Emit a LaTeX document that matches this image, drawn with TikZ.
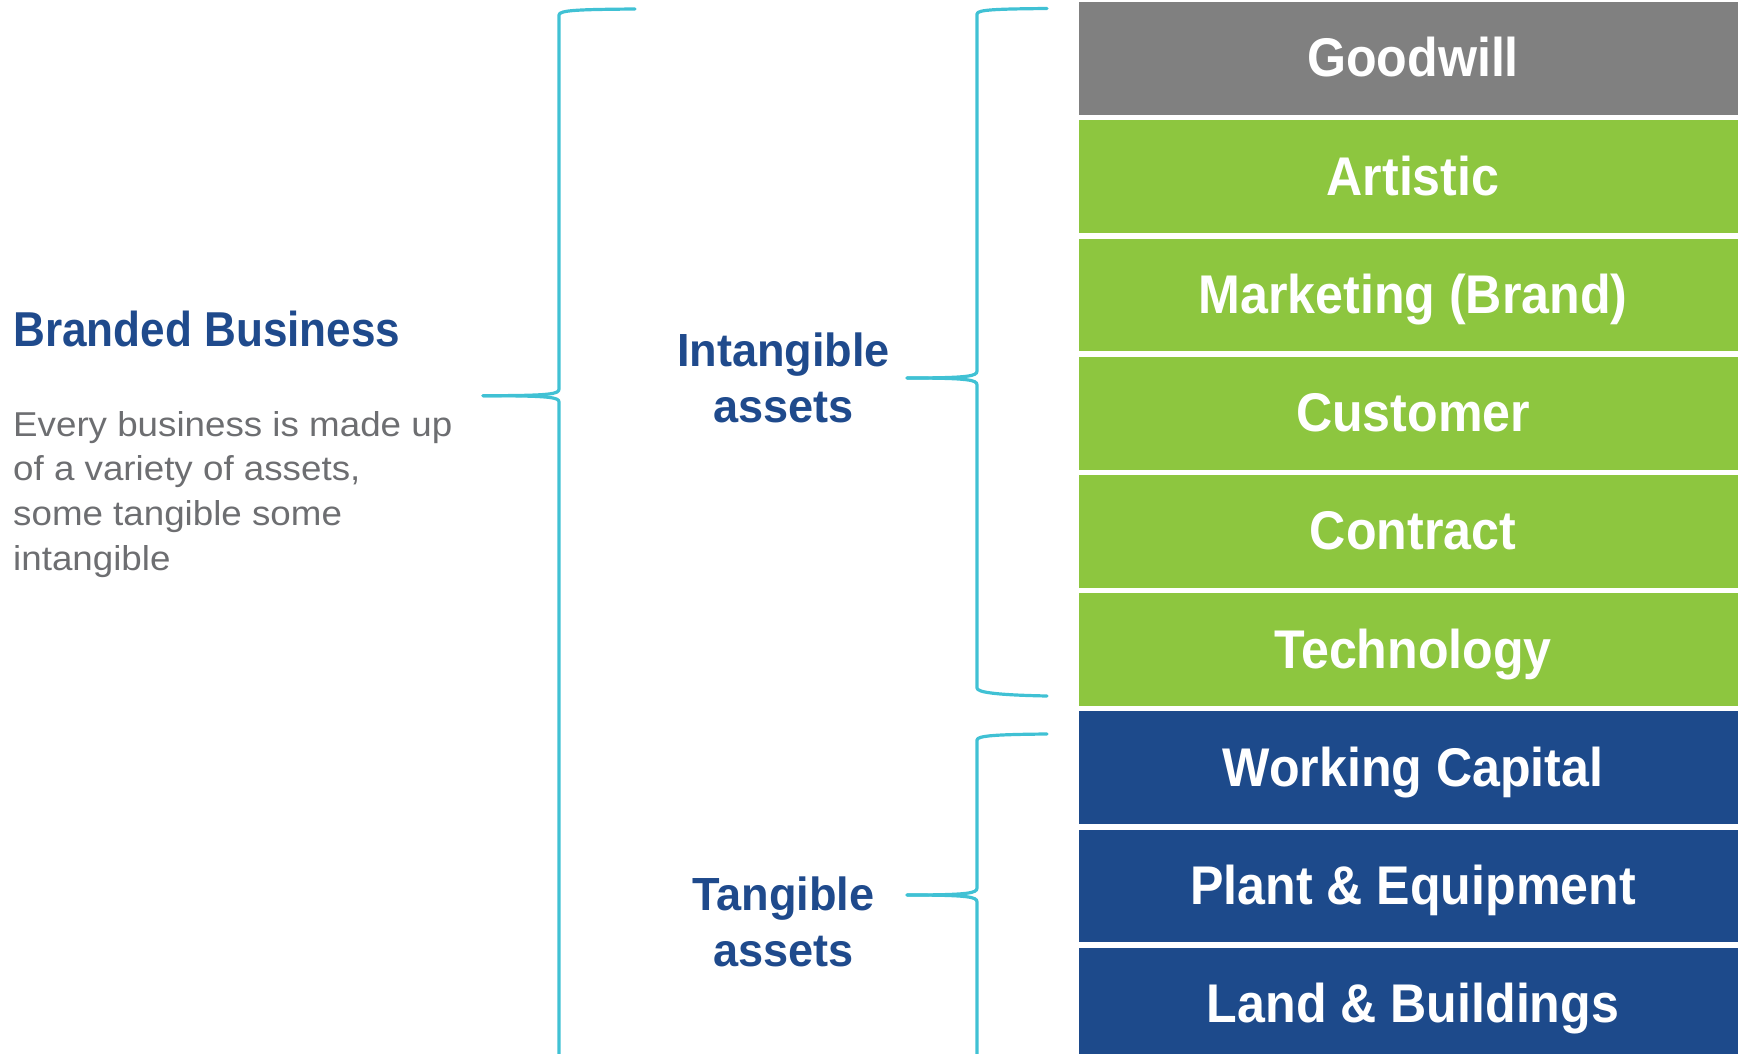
\documentclass[tikz,border=0pt]{standalone}
\usepackage{fontspec}
\setmainfont{Liberation Sans}
\newfontfamily\cellfont{Liberation Sans}[FakeStretch=0.92]
\newfontfamily\headfont{Liberation Sans}[FakeStretch=0.90]
\newfontfamily\groupfont{Liberation Sans}[FakeStretch=0.97]
\newfontfamily\bodyfont{Liberation Sans}[FakeStretch=1.065]

\definecolor{brandblue}{RGB}{31,74,140}
\definecolor{cellblue}{RGB}{29,74,139}
\definecolor{cellgreen}{RGB}{141,198,63}
\definecolor{cellgray}{RGB}{128,128,128}
\definecolor{bodygray}{RGB}{109,110,113}
\definecolor{bracecyan}{RGB}{64,193,212}

\tikzset{
  bracket/.style={draw=bracecyan, line width=3.2pt, line join=round, line cap=round},
  cell/.style={draw=none, inner sep=0pt, minimum height=112.7pt, minimum width=700pt, anchor=north west},
  celltext/.style={text=white, anchor=base, inner sep=0pt, font=\cellfont\bfseries\fontsize{54.5}{60}\selectfont},
  grouptext/.style={text=brandblue, anchor=base, inner sep=0pt, align=center, font=\groupfont\bfseries\fontsize{46.5}{56}\selectfont},
}

\begin{document}
\begin{tikzpicture}[x=1pt, y=-1pt]
\useasboundingbox (0,0) rectangle (1738,1054);
\clip (0,0) rectangle (1738,1054);

% stacked asset cells
\foreach \name/\label/\col [count=\i from 0] in {
  goodwill/Goodwill/cellgray,
  artistic/Artistic/cellgreen,
  marketing/Marketing (Brand)/cellgreen,
  customer/Customer/cellgreen,
  contract/Contract/cellgreen,
  technology/Technology/cellgreen,
  working/Working Capital/cellblue,
  plant/Plant \& Equipment/cellblue,
  land/Land \& Buildings/cellblue}{
  \node[cell, fill=\col] (\name) at (1079, {2+118.2*\i}) {};
  \node[celltext] (\name-t) at (1413, {2+118.2*\i+75}) {\label};
}

% left-hand description (multi-line nodes sit on their last baseline)
\node[anchor=base west, inner sep=0pt, text=brandblue,
      font=\headfont\bfseries\fontsize{49}{56}\selectfont] (title) at (13,346.5) {Branded Business};
\node[anchor=base west, inner sep=0pt, text=bodygray, align=left,
      font=\bodyfont\fontsize{34.5}{44.8}\selectfont] (desc) at (13,570.4)
  {Every business is made up\\of a variety of assets,\\some tangible some\\intangible};

% group labels
\node[grouptext] (intangible) at (783.5,422) {Intangible\\assets};
\node[grouptext] (tangible) at (783.5,966) {Tangible\\assets};

% brace tips
\coordinate (bigtip) at (483,395.7);
\coordinate (inttip) at (907,378);
\coordinate (tantip) at (907,895);

% outer brace: whole business
\draw[bracket] (635,9) .. controls (580,9.5) and (559,10) .. (559,15)
  -- (559,389) .. controls (559,394) and (552,395.7) .. (bigtip);
\draw[bracket] (bigtip) .. controls (552,395.7) and (559,397.5) .. (559,402)
  -- (559,1070);

% intangible brace
\draw[bracket] (1047,8.5) .. controls (998,9) and (977,9.5) .. (977,14)
  -- (977,371) .. controls (977,376) and (970,378) .. (inttip);
\draw[bracket] (inttip) .. controls (970,378) and (977,380) .. (977,385)
  -- (977,688) .. controls (977,692.5) and (998,695) .. (1047,696);

% tangible brace
\draw[bracket] (1047,734) .. controls (998,734.5) and (977,735.5) .. (977,740)
  -- (977,888) .. controls (977,893) and (970,895) .. (tantip);
\draw[bracket] (tantip) .. controls (970,895) and (977,897) .. (977,902)
  -- (977,1070);
\end{tikzpicture}
\end{document}
